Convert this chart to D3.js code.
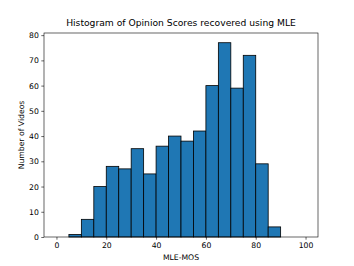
<!DOCTYPE html>
<html>
<head>
<meta charset="utf-8">
<script src="https://cdn.jsdelivr.net/npm/d3@7"></script>
<style>
  body { margin: 0; background: #fff; }
  text { font-family: "DejaVu Sans", sans-serif; fill: #000; }
</style>
</head>
<body>
<div id="chart"></div>
<script>
  // bin edges (left) and counts
  var binStarts = [5, 10, 15, 20, 25, 30, 35, 40, 45, 50, 55, 60, 65, 70, 75, 80, 85]
  var counts = [1, 7, 20, 28, 27, 35, 25, 36, 40, 38, 42, 60, 77, 59, 72, 29, 4]
  var binWidth = 5
  var xTicks = [0, 20, 40, 60, 80, 100]
  var yTicks = [0, 10, 20, 30, 40, 50, 60, 70, 80]

  var width = 354
  var height = 266
  var margin = { left: 44, right: 36, top: 33, bottom: 29 }

  var svg = d3.select("#chart")
    .append("svg")
    .attr("width", width)
    .attr("height", height)

  var x = d3.scaleLinear()
    .domain([-5, 105])
    .range([margin.left, width - margin.right])

  var y = d3.scaleLinear()
    .domain([0, 80.85])
    .range([height - margin.bottom, margin.top])

  var data = binStarts.map(function (d, i) {
    return { x0: d, n: counts[i] }
  })

  // bars
  svg.append("g")
    .selectAll("rect")
    .data(data)
    .enter()
    .append("rect")
    .attr("x", function (d) { return x(d.x0) })
    .attr("width", function (d) { return x(d.x0 + binWidth) - x(d.x0) })
    .attr("y", function (d) { return y(d.n) })
    .attr("height", function (d) { return y(0) - y(d.n) })
    .attr("fill", "#1f77b4")
    .attr("stroke", "#000")
    .attr("stroke-width", 0.8)

  // axes
  var xAxis = svg.append("g")
    .attr("transform", "translate(0," + (height - margin.bottom) + ")")
    .call(d3.axisBottom(x).tickValues(xTicks).tickSize(2.7).tickPadding(2.5))
  var yAxis = svg.append("g")
    .attr("transform", "translate(" + margin.left + ",0)")
    .call(d3.axisLeft(y).tickValues(yTicks).tickSize(2.7).tickPadding(2.5))

  svg.selectAll(".domain").remove()
  svg.selectAll(".tick line").attr("stroke", "#000").attr("stroke-width", 0.6)
  svg.selectAll(".tick text").style("font-size", "7.7px").attr("fill", "#000")

  // frame
  svg.append("rect")
    .attr("x", margin.left)
    .attr("y", margin.top)
    .attr("width", width - margin.left - margin.right)
    .attr("height", height - margin.top - margin.bottom)
    .attr("fill", "none")
    .attr("stroke", "#000")
    .attr("stroke-width", 0.6)

  // labels
  svg.append("text")
    .attr("x", (margin.left + width - margin.right) / 2)
    .attr("y", 26)
    .attr("text-anchor", "middle")
    .style("font-size", "9.2px")
    .text("Histogram of Opinion Scores recovered using MLE")

  svg.append("text")
    .attr("x", (margin.left + width - margin.right) / 2)
    .attr("y", 260)
    .attr("text-anchor", "middle")
    .style("font-size", "7.7px")
    .text("MLE-MOS")

  svg.append("text")
    .attr("transform", "translate(24," + ((margin.top + height - margin.bottom) / 2) + ") rotate(-90)")
    .attr("text-anchor", "middle")
    .style("font-size", "7.7px")
    .text("Number of Videos")
</script>
</body>
</html>
